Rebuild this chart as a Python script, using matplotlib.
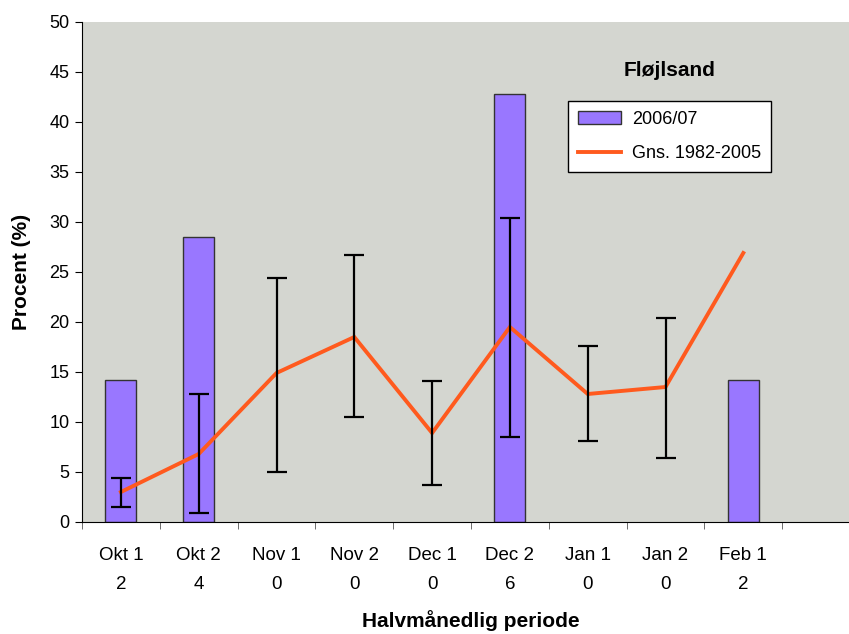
import matplotlib
matplotlib.use("Agg")
import matplotlib.pyplot as plt
import numpy as np

plt.rcParams['font.family'] = ['Liberation Sans', 'DejaVu Sans']

categories = ["Okt 1", "Okt 2", "Nov 1", "Nov 2", "Dec 1", "Dec 2", "Jan 1", "Jan 2", "Feb 1", ""]
counts = ["2", "4", "0", "0", "0", "6", "0", "0", "2", ""]
bars_2006 = [14.2, 28.5, 0, 0, 0, 42.8, 0, 0, 14.2, np.nan]
mean_82_05 = [3.0, 6.8, 14.9, 18.5, 8.9, 19.5, 12.8, 13.5, 26.9]
err_low = [1.5, 0.9, 5.0, 10.5, 3.7, 8.5, 8.1, 6.4]
err_high = [4.4, 12.8, 24.4, 26.7, 14.1, 30.4, 17.6, 20.4]

W, H = 849, 634
fig = plt.figure(figsize=(W / 100, H / 100), dpi=100)
fig.patch.set_facecolor('white')
ax = fig.add_axes([82 / W, 1 - 522 / H, 778 / W, 500 / H])
ax.set_facecolor('#D4D6D0')

x = np.arange(len(categories))
bvals = np.array(bars_2006, dtype=float)
bvals_draw = np.where(bvals > 0, bvals, np.nan)
ax.bar(x, bvals_draw, width=0.4, color='#9977FF', edgecolor='#333333', linewidth=1.0,
       label='2006/07', zorder=2)

xm = np.arange(len(mean_82_05))
ax.plot(xm, mean_82_05, color='#FF5A1E', linewidth=2.8, label='Gns. 1982-2005', zorder=3,
        solid_joinstyle='miter')

xe = np.arange(len(err_low))
m = np.array(mean_82_05[:len(err_low)])
lo = m - np.array(err_low)
hi = np.array(err_high) - m
ax.errorbar(xe, m, yerr=[lo, hi], fmt='none', ecolor='black', elinewidth=1.6,
            capsize=7, capthick=1.6, zorder=4)

ax.set_xlim(-0.5, len(categories) - 0.5)
ax.set_ylim(0, 50)
ax.set_yticks(np.arange(0, 51, 5))
ax.tick_params(axis='y', labelsize=13, length=5, direction='out', colors='black', pad=4)

labels = [f"{c}\n{n}" if c else "" for c, n in zip(categories, counts)]
ax.set_xticks(x)
ax.set_xticklabels(labels, fontsize=13.5, linespacing=1.95)
ax.tick_params(axis='x', length=0, pad=18)
ax.set_xticks(np.arange(-0.5, len(categories), 1.0), minor=True)
ax.tick_params(axis='x', which='minor', length=5, color='#555555', direction='out')

for s in ['top', 'right']:
    ax.spines[s].set_visible(False)
ax.spines['left'].set_color('black')
ax.spines['bottom'].set_color('black')

ax.set_ylabel('Procent (%)', fontsize=15, fontweight='bold')
ax.yaxis.set_label_coords((31 - 82) / 778, 0.5)
ax.set_xlabel('Halvmånedlig periode', fontsize=15, fontweight='bold')
ax.xaxis.set_label_coords(0.5, (522 - 610) / 500)

ax.text((670 - 82) / 778, (522 - 70) / 500, 'Fløjlsand', transform=ax.transAxes,
        ha='center', va='center', fontsize=15, fontweight='bold')

h, l = ax.get_legend_handles_labels()
order = [l.index('2006/07'), l.index('Gns. 1982-2005')]
leg = ax.legend([h[i] for i in order], [l[i] for i in order],
                loc='upper left', bbox_to_anchor=((568 - 82) / 778, (522 - 101) / 500),
                fontsize=13, frameon=True, fancybox=False, edgecolor='black',
                framealpha=1, borderpad=0.55, handlelength=2.4, labelspacing=0.95,
                handletextpad=0.6, borderaxespad=0)
leg.get_frame().set_linewidth(1.0)

fig.savefig('out.png', dpi=100)
